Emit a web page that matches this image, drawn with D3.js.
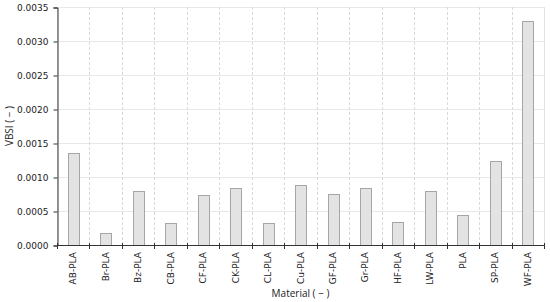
<!DOCTYPE html>
<title>VBSI by material</title>
<body>
<script src="https://cdn.jsdelivr.net/npm/d3@7"></script>
<style>
  html, body {
    width: 100%;
    height: 100%;
    margin: 0;
    overflow: hidden;
    background: #fff;
  }
</style>
<script>
  // values
  var materials = ["AB-PLA", "Br-PLA", "Bz-PLA", "CB-PLA", "CF-PLA", "CK-PLA", "CL-PLA",
    "Cu-PLA", "GF-PLA", "Gr-PLA", "HF-PLA", "LW-PLA", "PLA", "SP-PLA", "WF-PLA"];
  var vbsi = [0.00135, 0.00017, 0.00079, 0.00033, 0.00074, 0.00084, 0.00033,
    0.00088, 0.00075, 0.00084, 0.00034, 0.00080, 0.00044, 0.00124, 0.00329];
  var yTicks = [0, 0.0005, 0.001, 0.0015, 0.002, 0.0025, 0.003, 0.0035];

  // plot box (note: "top" is taken by window.top, so use other names)
  var width = 550, height = 302,
    pLeft = 57, pRight = 544, pTop = 7, pBottom = 245;

  var svg = d3.select("body").append("svg")
    .attr("width", width)
    .attr("height", height)
    .style("font-family", "DejaVu Sans");

  var x = d3.scaleBand().domain(materials).range([pLeft, pRight]);
  var y = d3.scaleLinear().domain([0, 0.0035]).range([pBottom, pTop]);

  // plot frame
  svg.append("rect")
    .attr("x", pLeft + 0.5).attr("y", pTop + 0.5)
    .attr("width", pRight - pLeft).attr("height", pBottom - pTop)
    .attr("fill", "none").attr("stroke", "#e3e3e3");

  // horizontal grid
  svg.append("g").selectAll("line")
    .data(yTicks.slice(1))
    .enter().append("line")
    .attr("x1", pLeft).attr("x2", pRight)
    .attr("y1", function(d) { return Math.round(y(d)) + 0.5; })
    .attr("y2", function(d) { return Math.round(y(d)) + 0.5; })
    .attr("stroke", "#e8e8e8");

  // vertical dashed grid at category boundaries
  var bounds = materials.slice(1).map(function(m) { return x(m); });
  svg.append("g").selectAll("line")
    .data(bounds)
    .enter().append("line")
    .attr("x1", function(d) { return Math.round(d) + 0.5; })
    .attr("x2", function(d) { return Math.round(d) + 0.5; })
    .attr("y1", pTop).attr("y2", pBottom)
    .attr("stroke", "#d9d9d9")
    .attr("stroke-dasharray", "3,2");

  // bars
  var bw = x.bandwidth() / 3;
  svg.append("g").selectAll("rect")
    .data(vbsi)
    .enter().append("rect")
    .attr("x", function(d, i) { return Math.round(x(materials[i]) + x.bandwidth() / 2 - bw / 2) + 0.5; })
    .attr("y", function(d) { return Math.round(y(d)) + 0.5; })
    .attr("width", Math.round(bw))
    .attr("height", function(d) { return Math.round(pBottom - y(d)); })
    .attr("fill", "#e3e3e3")
    .attr("stroke", "#a6a6a6");

  // y axis
  var yAxis = d3.axisLeft(y)
    .tickValues(yTicks)
    .tickFormat(d3.format(".4f"))
    .tickSize(4)
    .tickPadding(5);
  var gy = svg.append("g")
    .attr("transform", "translate(" + (pLeft + 0.5) + ",0.5)")
    .call(yAxis);
  gy.selectAll("text").attr("font-size", 9).attr("fill", "#222").style("font-family", "DejaVu Sans");
  gy.selectAll("line, path").attr("stroke", "#333");

  // x axis: ticks at band boundaries
  svg.append("line")
    .attr("x1", pLeft).attr("x2", pRight + 1)
    .attr("y1", pBottom + 0.5).attr("y2", pBottom + 0.5)
    .attr("stroke", "#333");
  svg.append("g").selectAll("line")
    .data([pLeft].concat(bounds).concat([pRight]))
    .enter().append("line")
    .attr("x1", function(d) { return Math.round(d) + 0.5; })
    .attr("x2", function(d) { return Math.round(d) + 0.5; })
    .attr("y1", pBottom - 2).attr("y2", pBottom + 4)
    .attr("stroke", "#333");

  svg.append("g").selectAll("text")
    .data(materials)
    .enter().append("text")
    .attr("transform", function(d) {
      return "translate(" + (x(d) + x.bandwidth() / 2 + 3) + "," + (pBottom + 7) + ") rotate(-90)";
    })
    .attr("text-anchor", "end")
    .attr("font-size", 9)
    .attr("fill", "#222")
    .text(function(d) { return d; });

  // axis titles
  svg.append("text")
    .attr("x", (pLeft + pRight) / 2)
    .attr("y", 297)
    .attr("text-anchor", "middle")
    .attr("font-size", 10)
    .attr("fill", "#222")
    .style("font-family", "Open Sans")
    .text("Material ( \u2212 )");

  svg.append("text")
    .attr("transform", "translate(13," + ((pTop + pBottom) / 2) + ") rotate(-90)")
    .attr("text-anchor", "middle")
    .attr("font-size", 10)
    .attr("fill", "#222")
    .style("font-family", "Open Sans")
    .text("VBSI ( \u2212 )");
</script>
